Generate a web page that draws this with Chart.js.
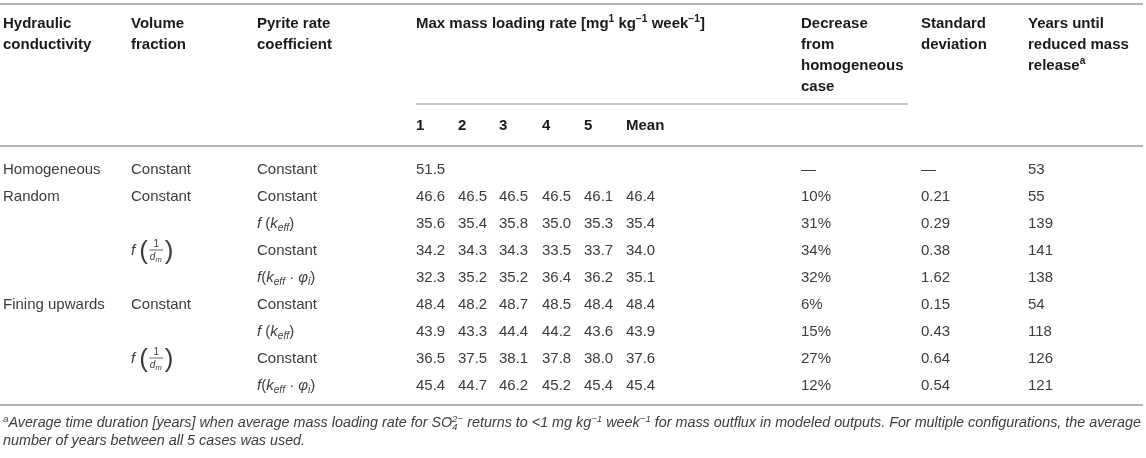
<!DOCTYPE html>
<html>
<head>
<meta charset="utf-8">
<script src="https://cdn.jsdelivr.net/npm/chart.js@4.4.1/dist/chart.umd.min.js"></script>
<style>
  html, body { margin: 0; padding: 0; background: #fff; }
  #wrap { width: 1146px; height: 458px; }
</style>
</head>
<body>
<div id="wrap"><canvas id="tbl" width="1146" height="458"></canvas></div>
<script>
// table values, one array per column
const hydraulic = ["Homogeneous", "Random", "", "", "", "Fining upwards", "", "", ""];
const volumeFraction = ["Constant", "Constant", "", "f(1/dm)", "", "Constant", "", "f(1/dm)", ""];
const pyriteRate = ["Constant", "Constant", "f (keff)", "Constant", "f(keff·φi)", "Constant", "f (keff)", "Constant", "f(keff·φi)"];
const case1 = [51.5, 46.6, 35.6, 34.2, 32.3, 48.4, 43.9, 36.5, 45.4];
const case2 = [null, 46.5, 35.4, 34.3, 35.2, 48.2, 43.3, 37.5, 44.7];
const case3 = [null, 46.5, 35.8, 34.3, 35.2, 48.7, 44.4, 38.1, 46.2];
const case4 = [null, 46.5, 35.0, 33.5, 36.4, 48.5, 44.2, 37.8, 45.2];
const case5 = [null, 46.1, 35.3, 33.7, 36.2, 48.4, 43.6, 38.0, 45.4];
const caseMean = [null, 46.4, 35.4, 34.0, 35.1, 48.4, 43.9, 37.6, 45.4];
const decreasePct = [null, 10, 31, 34, 32, 6, 15, 27, 12];
const stdDev = [null, 0.21, 0.29, 0.38, 1.62, 0.15, 0.43, 0.64, 0.54];
const yearsUntil = [53, 55, 139, 141, 138, 54, 118, 126, 121];
const caseLabels = ["1", "2", "3", "4", "5", "Mean"];

const FONT = '"Liberation Sans", Arial, Helvetica, sans-serif';

// layout (pixel units on the hidden linear scales)
const colX = { hc: 3, vf: 131, prc: 257, c1: 416, c2: 458, c3: 499, c4: 542, c5: 584, mean: 626, dec: 801, sd: 921, yrs: 1028 };
const headTop = 23, headStep = 21;
const partialRuleY = 104, subHeadY = 125, headRuleY = 146;
const bodyTop = 169, rowStep = 27;
const bottomRuleY = 405, noteY = [422, 440];

// rich text pieces for the formula cells
const richCells = {
  "f (keff)": [{ t: "f", i: 1 }, { t: " (" }, { t: "k", i: 1 }, { t: "eff", i: 1, sub: 1 }, { t: ")" }],
  "f(keff·φi)": [{ t: "f", i: 1 }, { t: "(" }, { t: "k", i: 1 }, { t: "eff", i: 1, sub: 1 }, { t: " · " },
                 { t: "φ", i: 1 }, { t: "i", i: 1, sub: 1 }, { t: ")" }]
};

function fmtCase(v) { return v == null ? "" : v.toFixed(1); }

// one point per body cell, so the plugin can write text where the scales put it
const colKeys = ["hc", "vf", "prc", "c1", "c2", "c3", "c4", "c5", "mean", "dec", "sd", "yrs"];
const cellText = [];
const cellPoints = [];
hydraulic.forEach((h, r) => {
  const vals = [
    h, volumeFraction[r], pyriteRate[r],
    fmtCase(case1[r]), fmtCase(case2[r]), fmtCase(case3[r]), fmtCase(case4[r]), fmtCase(case5[r]), fmtCase(caseMean[r]),
    decreasePct[r] == null ? "—" : decreasePct[r] + "%",
    stdDev[r] == null ? "—" : stdDev[r].toFixed(2),
    String(yearsUntil[r])
  ];
  vals.forEach((v, c) => {
    if (!v) return;
    cellPoints.push({ x: colX[colKeys[c]], y: bodyTop + r * rowStep });
    cellText.push(v);
  });
});

function setFont(ctx, size, bold, italic) {
  ctx.font = (italic ? "italic " : "") + (bold ? "bold " : "") + size + "px " + FONT;
}

// draws a list of {t, i, sub, sup, stack} pieces from x on the baseline y, returns the end x
// a piece with stack: 1 is drawn over the previous one (sub and sup at the same x)
function drawRich(ctx, parts, x, y, size, bold, color, dryRun) {
  ctx.fillStyle = color;
  let prevX = x, prevW = 0;
  parts.forEach((p) => {
    const small = p.sub || p.sup;
    const s = small ? size * 0.68 : size;
    setFont(ctx, s, bold, p.i);
    const dy = p.sup ? -size * 0.38 : p.sub ? size * 0.22 : 0;
    const w = ctx.measureText(p.t).width;
    let at = x;
    if (p.stack) at = prevX;
    if (!dryRun) ctx.fillText(p.t, at, y + dy);
    if (p.stack) {
      x = prevX + Math.max(prevW, w);
    } else {
      prevX = x;
      prevW = w;
      x += w;
    }
  });
  return x;
}

function drawFraction(ctx, x, yc, color) {
  ctx.fillStyle = color;
  setFont(ctx, 15, false, true);
  ctx.fillText("f", x, yc + 5);
  x += ctx.measureText("f").width + 4;
  setFont(ctx, 26, false, false);
  ctx.fillText("(", x, yc + 9);
  x += ctx.measureText("(").width + 2;
  // fraction 1 / d_m
  setFont(ctx, 10, false, true);
  const dW = ctx.measureText("d").width;
  setFont(ctx, 7.5, false, true);
  const mW = ctx.measureText("m").width;
  const fw = dW + mW + 1;
  setFont(ctx, 10, false, false);
  ctx.textAlign = "center";
  ctx.fillText("1", x + fw / 2, yc - 3);
  ctx.textAlign = "left";
  ctx.strokeStyle = color;
  ctx.lineWidth = 0.8;
  ctx.beginPath();
  ctx.moveTo(x - 0.5, yc);
  ctx.lineTo(x + fw + 0.5, yc);
  ctx.stroke();
  setFont(ctx, 10, false, true);
  ctx.fillText("d", x, yc + 10);
  setFont(ctx, 7.5, false, true);
  ctx.fillText("m", x + dW, yc + 12);
  x += fw + 2;
  setFont(ctx, 26, false, false);
  ctx.fillText(")", x, yc + 9);
}

const tablePlugin = {
  id: "tableText",
  afterDraw(chart) {
    const ctx = chart.ctx;
    const sx = chart.scales.x, sy = chart.scales.y;
    const px = (v) => sx.getPixelForValue(v);
    const py = (v) => sy.getPixelForValue(v);
    const headColor = "#1a1a1a", bodyColor = "#3c3c3c", ruleColor = "#b4b4b4";
    ctx.save();
    ctx.textBaseline = "alphabetic";
    ctx.textAlign = "left";

    // rules
    ctx.strokeStyle = ruleColor;
    const rule = (x0, x1, y, w) => {
      ctx.lineWidth = w;
      ctx.beginPath();
      ctx.moveTo(px(x0), py(y));
      ctx.lineTo(px(x1), py(y));
      ctx.stroke();
    };
    rule(0, 1143, 4, 2);
    rule(colX.c1, 908, partialRuleY, 1.5);
    rule(0, 1143, headRuleY, 2);
    rule(0, 1143, bottomRuleY, 2);

    // header
    const base = (line) => py(headTop + line * headStep) + 5;
    const headLines = {
      hc: ["Hydraulic", "conductivity"],
      vf: ["Volume", "fraction"],
      prc: ["Pyrite rate", "coefficient"],
      dec: ["Decrease", "from", "homogeneous", "case"],
      sd: ["Standard", "deviation"],
      yrs: ["Years until", "reduced mass"]
    };
    Object.entries(headLines).forEach(([k, lines]) => {
      lines.forEach((t, i) => {
        setFont(ctx, 15, true, false);
        ctx.fillStyle = headColor;
        ctx.fillText(t, px(colX[k]), base(i));
      });
    });
    drawRich(ctx, [{ t: "release" }, { t: "a", sup: 1 }], px(colX.yrs), base(2), 15, true, headColor);
    drawRich(ctx, [
      { t: "Max mass loading rate [mg" }, { t: "1", sup: 1 }, { t: " kg" }, { t: "−1", sup: 1 },
      { t: " week" }, { t: "−1", sup: 1 }, { t: "]" }
    ], px(colX.c1), base(0), 15, true, headColor);
    ["c1", "c2", "c3", "c4", "c5", "mean"].forEach((k, i) => {
      setFont(ctx, 15, true, false);
      ctx.fillStyle = headColor;
      ctx.fillText(caseLabels[i], px(colX[k]), py(subHeadY) + 5);
    });

    // body cells, placed at the dataset points
    const pts = chart.getDatasetMeta(0).data;
    pts.forEach((pt, i) => {
      const t = cellText[i];
      if (t === "f(1/dm)") {
        drawFraction(ctx, pt.x, pt.y, bodyColor);
      } else if (richCells[t]) {
        drawRich(ctx, richCells[t], pt.x, pt.y + 5, 15, false, bodyColor);
      } else {
        setFont(ctx, 15, false, false);
        ctx.fillStyle = bodyColor;
        ctx.fillText(t, pt.x, pt.y + 5);
      }
    });

    // footnote, condensed to the table width
    const note1 = [
      { t: "a", sup: 1, i: 1 },
      { t: "Average time duration [years] when average mass loading rate for SO", i: 1 },
      { t: "4", sub: 1, i: 1 }, { t: "2−", sup: 1, i: 1, stack: 1 },
      { t: " returns to <1 mg kg", i: 1 }, { t: "−1", sup: 1, i: 1 },
      { t: " week", i: 1 }, { t: "−1", sup: 1, i: 1 },
      { t: " for mass outflux in modeled outputs. For multiple configurations, the average", i: 1 }
    ];
    const natural = drawRich(ctx, note1, 0, 0, 14, false, bodyColor, true);
    const squeeze = (1141 - px(3)) / natural;
    ctx.save();
    ctx.translate(px(3), py(noteY[0]) + 5);
    ctx.scale(squeeze, 1);
    drawRich(ctx, note1, 0, 0, 14, false, bodyColor);
    drawRich(ctx, [{ t: "number of years between all 5 cases was used.", i: 1 }], 0, py(noteY[1]) - py(noteY[0]), 14, false, bodyColor);
    ctx.restore();

    ctx.restore();
  }
};

new Chart(document.getElementById("tbl"), {
  type: "scatter",
  data: { datasets: [{ data: cellPoints, pointRadius: 0, pointHoverRadius: 0 }] },
  options: {
    responsive: false,
    animation: false,
    layout: { padding: 0 },
    events: [],
    plugins: { legend: { display: false }, tooltip: { enabled: false } },
    scales: {
      x: { type: "linear", min: 0, max: 1146, display: false },
      y: { type: "linear", min: 0, max: 458, reverse: true, display: false }
    }
  },
  plugins: [tablePlugin]
});
</script>
</body>
</html>
